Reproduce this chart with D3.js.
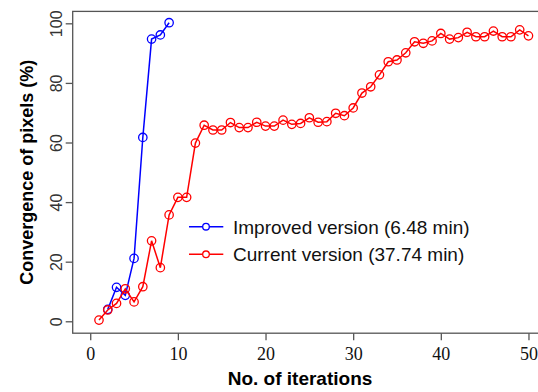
<!DOCTYPE html>
<html lang="en">
<head>
<meta charset="UTF-8">
<title>Convergence</title>
<script src="https://cdn.jsdelivr.net/npm/d3@7"></script>
<style>
    body { margin: 0; background: #fff; }
    svg { display: block; }
    .ytick text { font: 16px "Liberation Sans", Arial, sans-serif; fill: #333; }
    .xtick text { font: 18px "Liberation Serif", "Times New Roman", serif; fill: #111; }
    .title { font-family: "Liberation Sans", Arial, sans-serif; font-weight: bold; fill: #000; }
    .legend text { font: 19px "Liberation Sans", Arial, sans-serif; fill: #111; }
</style>
</head>
<body>
<svg width="538" height="392"></svg>
<script>
    // iterations and convergence (%)
    var improvedIter = [2, 3, 4, 5, 6, 7, 8, 9];
    var improvedVals = [4.0, 11.4, 8.7, 21.1, 61.7, 94.7, 96.1, 100.2];

    var currentIter = d3.range(1, 51);
    var currentVals = [0.4, 3.8, 6.0, 10.9, 6.5, 11.6, 27.0, 18.0, 35.7, 41.6,
        41.6, 59.8, 65.8, 64.2, 64.2, 66.7, 65.0, 65.0, 66.8, 65.5,
        65.5, 67.5, 66.1, 66.4, 68.3, 66.8, 67.0, 69.8, 69.0, 71.6,
        76.6, 78.7, 82.7, 87.1, 87.7, 90.1, 93.8, 93.3, 94.1, 96.6,
        94.7, 95.2, 97.0, 95.5, 95.5, 97.4, 95.5, 95.5, 97.8, 95.8];

    var xTicks = [0, 10, 20, 30, 40, 50];
    var yTicks = [0, 20, 40, 60, 80, 100];
    var legendLabels = ["Improved version (6.48 min)", "Current version (37.74 min)"];
    var colors = ["#0000ff", "#ff0000"];

    var svg = d3.select("svg");

    var x = d3.scaleLinear().domain([-2, 52]).range([72.7, 546]);
    var y = d3.scaleLinear().domain([-4, 104]).range([333.2, 11.4]);

    // frame
    svg.append("rect")
        .attr("x", x(-2)).attr("y", y(104))
        .attr("width", x(52) - x(-2)).attr("height", y(-4) - y(104))
        .attr("fill", "none").attr("stroke", "#555").attr("stroke-width", 1.3);

    var xAxis = svg.append("g")
        .attr("class", "xtick")
        .attr("transform", "translate(0," + y(-4) + ")")
        .call(d3.axisBottom(x).tickValues(xTicks).tickSize(7).tickPadding(7).tickFormat(d3.format("d")));
    xAxis.select(".domain").remove();
    xAxis.selectAll(".tick line").attr("stroke", "#555").attr("stroke-width", 1.3);

    var yAxis = svg.append("g")
        .attr("class", "ytick")
        .attr("transform", "translate(" + x(-2) + ",0)")
        .call(d3.axisLeft(y).tickValues(yTicks).tickSize(7).tickFormat(d3.format("d")));
    yAxis.select(".domain").remove();
    yAxis.selectAll(".tick line").attr("stroke", "#555").attr("stroke-width", 1.3);
    yAxis.selectAll(".tick text")
        .attr("x", null).attr("dy", null)
        .attr("text-anchor", "middle")
        .attr("transform", "translate(-11,0) rotate(-90)");

    svg.append("text").attr("class", "title")
        .attr("text-anchor", "middle")
        .style("font-size", "19px")
        .attr("x", 300).attr("y", 385)
        .text("No. of iterations");

    svg.append("text").attr("class", "title")
        .attr("text-anchor", "middle")
        .style("font-size", "18px")
        .attr("transform", "translate(33," + (y(-4) + y(104)) / 2 + ") rotate(-90)")
        .text("Convergence of pixels (%)");

    var line = d3.line().x(function(d) { return x(d[0]); }).y(function(d) { return y(d[1]); });

    var series = [d3.zip(improvedIter, improvedVals), d3.zip(currentIter, currentVals)];

    series.forEach(function(pts, i) {
        var g = svg.append("g");
        g.append("path")
            .attr("d", line(pts))
            .attr("fill", "none").attr("stroke", colors[i]).attr("stroke-width", 1.5);
        g.selectAll("circle").data(pts).enter().append("circle")
            .attr("cx", function(d) { return x(d[0]); })
            .attr("cy", function(d) { return y(d[1]); })
            .attr("r", 4.2)
            .attr("fill", "none").attr("stroke", colors[i]).attr("stroke-width", 1.3);
    });

    // legend
    var leg = svg.append("g").attr("class", "legend");
    legendLabels.forEach(function(lab, i) {
        var ly = 226.7 + i * 27.6;
        leg.append("line")
            .attr("x1", 189).attr("x2", 223.3).attr("y1", ly).attr("y2", ly)
            .attr("stroke", colors[i]).attr("stroke-width", 1.5);
        leg.append("circle")
            .attr("cx", 206).attr("cy", ly).attr("r", 3.3)
            .attr("fill", "#fff").attr("stroke", colors[i]).attr("stroke-width", 1.3);
        leg.append("text")
            .attr("x", 233).attr("y", ly).attr("dy", "0.36em")
            .text(lab);
    });
</script>
</body>
</html>
